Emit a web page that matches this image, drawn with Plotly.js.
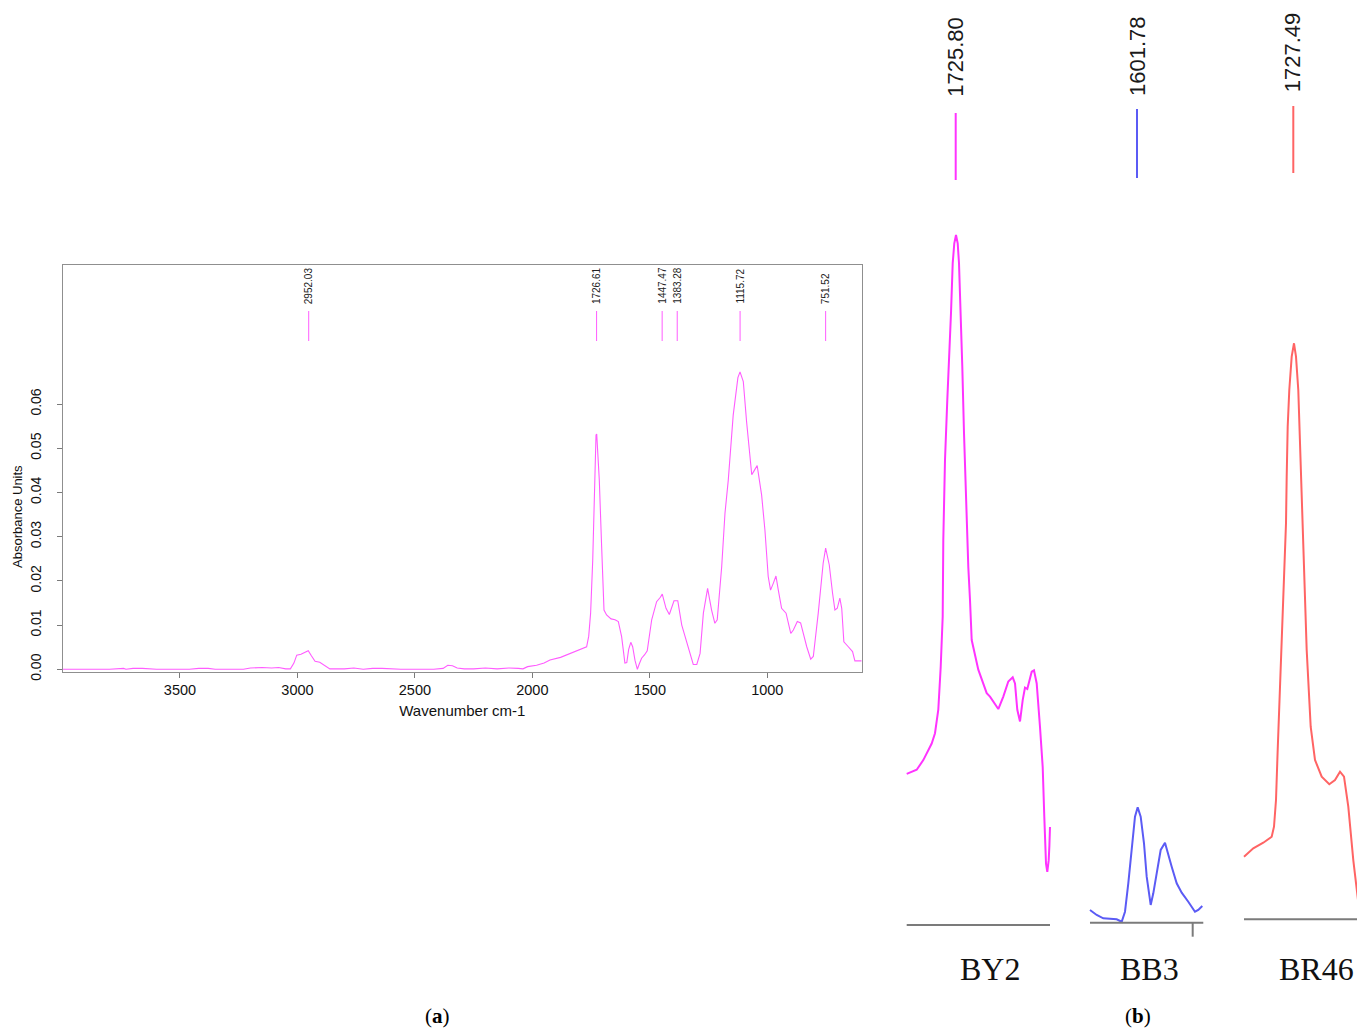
<!DOCTYPE html>
<html>
<head>
<meta charset="utf-8">
<script src="https://cdn.plot.ly/plotly-3.0.1.min.js"></script>
<style>html,body{margin:0;padding:0;background:#fff;}#chart{width:1357px;height:1030px;}</style>
</head>
<body>
<div id="chart"></div>
<script>
// ---------- Panel (a): full FTIR spectrum ----------
const wavenumber = [3998,3800,3740,3730,3700,3660,3600,3460,3420,3380,3350,3300,3230,3200,3150,3110,3080,3050,3030,3015,3003,2985,2970,2954,2940,2925,2905,2880,2862,2800,2760,2720,2680,2640,2560,2420,2380,2360,2340,2320,2290,2250,2200,2150,2100,2060,2040,2020,1982,1950,1925,1880,1840,1800,1769,1760,1752,1743,1735,1729,1726,1722,1715,1705,1695,1684,1665,1648,1634,1620,1606,1598,1590,1581,1573,1563,1553,1545,1535,1522,1511,1492,1471,1455,1447,1431,1417,1397,1381,1364,1336,1315,1300,1286,1272,1254,1237,1223,1213,1194,1180,1166,1145,1125,1116,1102,1088,1066,1055,1043,1024,1010,996,986,974,963,953,939,920,900,889,872,858,832,815,804,783,762,751.5,736,722,712,702,691,683,674,655,637,627,598];
const absorbance = [0.0000,0.0000,0.0002,0.0000,0.0002,0.0002,0.0000,0.0000,0.0002,0.0002,0.0000,0.0000,0.0000,0.0003,0.0004,0.0003,0.0004,0.0001,0.0001,0.0014,0.0032,0.0034,0.0038,0.0042,0.0030,0.0018,0.0016,0.0008,0.0001,0.0001,0.0003,0.0000,0.0002,0.0002,0.0000,0.0000,0.0002,0.0009,0.0008,0.0003,0.0001,0.0001,0.0003,0.0001,0.0003,0.0002,0.0001,0.0006,0.0009,0.0014,0.0021,0.0027,0.0035,0.0043,0.0051,0.0075,0.0127,0.0247,0.0420,0.0530,0.0532,0.0500,0.0428,0.0277,0.0134,0.0123,0.0114,0.0112,0.0108,0.0074,0.0014,0.0015,0.0045,0.0061,0.0051,0.0020,0.0000,0.0012,0.0025,0.0033,0.0042,0.0112,0.0153,0.0163,0.0170,0.0138,0.0124,0.0155,0.0155,0.0100,0.0051,0.0011,0.0011,0.0036,0.0127,0.0183,0.0134,0.0104,0.0112,0.0232,0.0353,0.0428,0.0575,0.0660,0.0673,0.0651,0.0560,0.0440,0.0450,0.0461,0.0394,0.0315,0.0210,0.0179,0.0195,0.0211,0.0179,0.0138,0.0127,0.0081,0.0089,0.0108,0.0105,0.0051,0.0023,0.0029,0.0127,0.0240,0.0274,0.0236,0.0172,0.0134,0.0138,0.0161,0.0138,0.0062,0.0051,0.0040,0.0019,0.0019];
const peaksA = [2952.03, 1726.61, 1447.47, 1383.28, 1115.72, 751.52];
const xTickValsA = [3500, 3000, 2500, 2000, 1500, 1000];
const yTickValsA = [0.00, 0.01, 0.02, 0.03, 0.04, 0.05, 0.06];

// ---------- Panel (b): carbonyl region of three samples (intensity normalised to BY2 peak) ----------
const by2Wavenumber = [1823.8,1803.8,1790.6,1773.8,1767.2,1760.6,1755.8,1751.8,1750.6,1747.2,1742.6,1738.6,1735.2,1731.8,1728.6,1725.2,1721.8,1719.2,1715.8,1712.6,1709.2,1705.2,1700.6,1697.2,1693.8,1680.6,1663.8,1657.2,1640.6,1630.6,1620.6,1611.8,1607.2,1602.6,1597.2,1591.8,1587.2,1582.6,1578.6,1573.8,1569.2,1563.8,1557.2,1551.8,1548.6,1545.2,1542.6,1539.8,1538.4,1537.2];
const by2Intensity = [0.219,0.225,0.239,0.263,0.278,0.312,0.374,0.447,0.558,0.674,0.761,0.819,0.887,0.959,0.988,1.000,0.988,0.959,0.887,0.809,0.713,0.616,0.519,0.471,0.413,0.370,0.336,0.331,0.313,0.331,0.353,0.359,0.350,0.312,0.295,0.326,0.344,0.342,0.353,0.367,0.369,0.350,0.287,0.229,0.157,0.089,0.077,0.094,0.115,0.142];
const bb3Wavenumber = [1695.8,1682.4,1669.2,1642.4,1632.4,1625.8,1619.2,1612.4,1605.8,1600.4,1594.4,1587.8,1582.4,1574.4,1569.2,1562.4,1554.4,1545.8,1539.2,1532.4,1522.4,1512.4,1499.2,1485.8,1479.2,1471.2];
const bb3Intensity = [0.0184,0.0112,0.0064,0.0049,0.0014,0.0159,0.0571,0.1054,0.1536,0.1672,0.1536,0.1151,0.0667,0.0257,0.0426,0.0716,0.1054,0.1159,0.1006,0.0812,0.0571,0.0435,0.0304,0.0159,0.0184,0.0242];
const br46Wavenumber = [1826.1,1807.5,1787.5,1770.7,1766.1,1762.1,1758.7,1754.1,1748.7,1745.5,1742.1,1740.7,1738.7,1735.5,1730.7,1726.1,1722.1,1717.5,1714.1,1710.7,1707.5,1704.1,1702.7,1700.7,1692.7,1684.1,1670.7,1655.5,1644.1,1634.1,1626.1,1617.5,1607.5,1598.1];
const br46Intensity = [0.0907,0.1029,0.1110,0.1197,0.1342,0.1729,0.2454,0.3420,0.4386,0.4965,0.5739,0.6414,0.7139,0.7671,0.8154,0.8348,0.8154,0.7671,0.6946,0.6319,0.5642,0.4870,0.4386,0.3903,0.2791,0.2309,0.2067,0.1957,0.2019,0.2139,0.2067,0.1632,0.0859,0.0280];
const sampleNames = ['BY2', 'BB3', 'BR46'];
const samplePeaks = [1725.80, 1601.78, 1727.49];
const baselineStart = [1823.8, 1695.8, 1826.1];
const baselineEnd = [1537.2, 1469.2, 1590.0];
const bb3TickAt = 1490.4;

// ---------- styling / layout ----------
const W = 1357, H = 1030;
const magentaA = '#ff5cff';
const sampleColors = ['#ff33ff', '#5b5bf5', '#ff6464'];
const sans = 'Liberation Sans, Arial, sans-serif';
const serif = 'Liberation Serif, Times New Roman, serif';
const px2x = p => p / W;
const px2y = p => 1 - p / H;

// Panel b pixel geometry (layout only)
const bLeftPx = 890;
const bPxPerCm = 0.5;
const bPeakPx = [955.7, 1137, 1293.3];
const bBasePx = [925, 922.7, 919.3];
const bPxPerUnit = 690;
const bTickTop = [113, 109, 106], bTickBot = [180, 178, 173];
const bLabelBottom = [98, 97, 93];
const bNamePx = [990, 1149, 1316.7];

const traces = [{
  x: wavenumber, y: absorbance, type: 'scatter', mode: 'lines',
  line: {color: magentaA, width: 1.1}, xaxis: 'x', yaxis: 'y', hoverinfo: 'skip'
}];
const bX = [by2Wavenumber, bb3Wavenumber, br46Wavenumber];
const bY = [by2Intensity, bb3Intensity, br46Intensity];
for (let i = 0; i < 3; i++) {
  traces.push({
    x: bX[i], y: bY[i], type: 'scatter', mode: 'lines',
    line: {color: sampleColors[i], width: 2},
    xaxis: 'x' + (i + 2), yaxis: 'y' + (i + 2), hoverinfo: 'skip'
  });
}

const layout = {
  width: W, height: H, autosize: false,
  margin: {l: 0, r: 0, t: 0, b: 0, pad: 0},
  paper_bgcolor: '#ffffff', plot_bgcolor: 'rgba(0,0,0,0)',
  showlegend: false,
  font: {family: sans, color: '#000'},
  xaxis: {
    domain: [px2x(63), px2x(861.7)], range: [3998, 598], anchor: 'y',
    showgrid: false, zeroline: false, showline: true, mirror: true,
    linecolor: '#8f8f8f', linewidth: 1.5,
    ticks: 'outside', ticklen: 5, tickcolor: '#7a7a7a', tickwidth: 1,
    tickvals: xTickValsA, ticktext: xTickValsA.map(String),
    tickfont: {family: sans, size: 14.5, color: '#111'},
    title: {text: 'Wavenumber cm-1', font: {family: sans, size: 15, color: '#111'}, standoff: 8}
  },
  yaxis: {
    domain: [px2y(671.5), px2y(265)], range: [-0.0005, 0.09147], anchor: 'x',
    showgrid: false, zeroline: false, showline: true, mirror: true,
    linecolor: '#8f8f8f', linewidth: 1.5,
    ticks: 'outside', ticklen: 5, tickcolor: '#7a7a7a', tickwidth: 1,
    tickvals: yTickValsA, ticktext: yTickValsA.map(v => v.toFixed(2)),
    tickangle: -90, ticklabelstandoff: 10,
    tickfont: {family: sans, size: 14, color: '#111'}
  },
  shapes: [],
  annotations: []
};

for (let i = 0; i < 3; i++) {
  const n = i + 2;
  const wAt = p => samplePeaks[i] - (p - bPeakPx[i]) / bPxPerCm;
  layout['xaxis' + n] = {
    domain: [px2x(bLeftPx), 1], range: [wAt(bLeftPx), wAt(W)], anchor: 'y' + n,
    visible: false, showgrid: false, zeroline: false
  };
  layout['yaxis' + n] = {
    domain: [0, 1], range: [(bBasePx[i] - H) / bPxPerUnit, bBasePx[i] / bPxPerUnit], anchor: 'x' + n,
    visible: false, showgrid: false, zeroline: false
  };
  // baseline
  layout.shapes.push({type: 'line', xref: 'x' + n, yref: 'y' + n,
    x0: baselineStart[i], x1: baselineEnd[i], y0: 0, y1: 0,
    line: {color: '#7b7b7b', width: 2}});
  // peak marker
  layout.shapes.push({type: 'line', xref: 'x' + n, yref: 'paper',
    x0: samplePeaks[i], x1: samplePeaks[i], y0: px2y(bTickBot[i]), y1: px2y(bTickTop[i]),
    line: {color: sampleColors[i], width: 2}});
  layout.annotations.push({xref: 'x' + n, yref: 'paper', x: samplePeaks[i], y: px2y(bLabelBottom[i]),
    text: samplePeaks[i].toFixed(2), textangle: -90, showarrow: false,
    xanchor: 'center', yanchor: 'bottom', borderpad: 0,
    font: {family: sans, size: 22, color: '#1a1a1a'}});
  layout.annotations.push({xref: 'paper', yref: 'paper', x: px2x(bNamePx[i]), y: px2y(969),
    text: sampleNames[i], showarrow: false, xanchor: 'center', yanchor: 'middle',
    font: {family: serif, size: 32, color: '#111'}});
}
// small tick on BB3 baseline
layout.shapes.push({type: 'line', xref: 'x3', yref: 'y3',
  x0: bb3TickAt, x1: bb3TickAt, y0: 0, y1: -14 / bPxPerUnit,
  line: {color: '#7b7b7b', width: 2}});

// panel a peak markers
peaksA.forEach(p => {
  layout.shapes.push({type: 'line', xref: 'x', yref: 'paper',
    x0: p, x1: p, y0: px2y(341), y1: px2y(311),
    line: {color: magentaA, width: 1}});
  layout.annotations.push({xref: 'x', yref: 'paper', x: p, y: px2y(305),
    text: p.toFixed(2), textangle: -90, showarrow: false,
    xanchor: 'center', yanchor: 'bottom', borderpad: 0,
    font: {family: sans, size: 10, color: '#222'}});
});

// y axis title of panel a
layout.annotations.push({xref: 'paper', yref: 'paper', x: px2x(17), y: px2y(517),
  text: 'Absorbance Units', textangle: -90, showarrow: false,
  xanchor: 'center', yanchor: 'middle', font: {family: sans, size: 13, color: '#111'}});

// sub-figure captions
layout.annotations.push({xref: 'paper', yref: 'paper', x: px2x(438), y: px2y(1029),
  text: '(<b>a</b>)', showarrow: false, xanchor: 'center', yanchor: 'bottom', borderpad: 0,
  font: {family: serif, size: 21, color: '#000'}});
layout.annotations.push({xref: 'paper', yref: 'paper', x: px2x(1138), y: px2y(1029),
  text: '(<b>b</b>)', showarrow: false, xanchor: 'center', yanchor: 'bottom', borderpad: 0,
  font: {family: serif, size: 21, color: '#000'}});

Plotly.newPlot('chart', traces, layout, {displayModeBar: false, staticPlot: true});
</script>
</body>
</html>
